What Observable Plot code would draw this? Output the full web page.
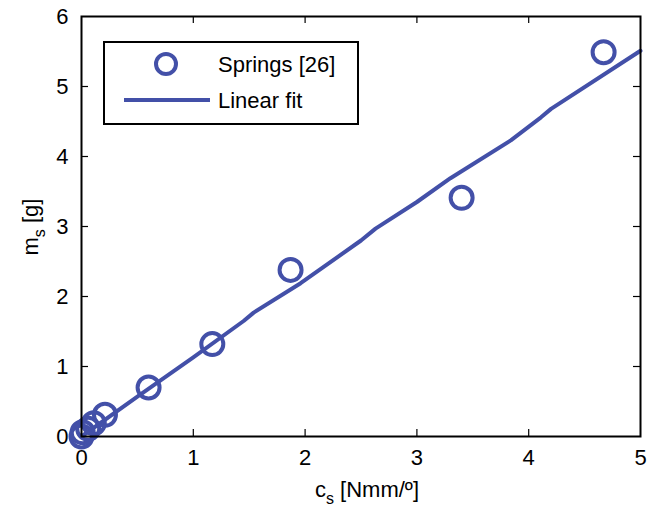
<!DOCTYPE html>
<html><head><meta charset="utf-8">
<script src="https://cdn.jsdelivr.net/npm/d3@7"></script>
<script src="https://cdn.jsdelivr.net/npm/@observablehq/plot@0.6"></script>
<style>
body{margin:0;background:#fff;font-family:"Liberation Sans",Arial,sans-serif;}
#wrap{position:relative;width:662px;height:507px;overflow:hidden;}
#legend{position:absolute;left:103px;top:41px;width:252px;height:80px;border:2px solid #000;background:#fff;box-sizing:content-box;}
</style></head>
<body><div id="wrap"></div>
<script>
const springC = [0.00, 0.01, 0.06, 0.11, 0.21, 0.60, 1.17, 1.87, 3.40, 4.67];
const springM = [0.00, 0.06, 0.11, 0.19, 0.31, 0.70, 1.32, 2.38, 3.41, 5.49];
const fitC = [0, 0.5, 1.0, 1.45, 1.54, 1.96, 2.5, 2.63, 3.0, 3.3, 3.84, 4.11, 4.2, 5.0];
const fitM = [0, 0.57, 1.13, 1.65, 1.77, 2.19, 2.8, 2.97, 3.35, 3.69, 4.23, 4.56, 4.68, 5.51];
const xTicks = [0, 1, 2, 3, 4, 5];
const yTicks = [0, 1, 2, 3, 4, 5, 6];
const blue = "#4350a8";

const springs = springC.map((c, i) => ({c, m: springM[i]}));
const fit = fitC.map((c, i) => ({c, m: fitM[i]}));
const tx = 5 / 559 * 7, ty = 6 / 420 * 7;

const chart = Plot.plot({
  width: 662, height: 507,
  marginLeft: 81, marginRight: 22, marginTop: 16, marginBottom: 71,
  style: {fontFamily: "Liberation Sans, Arial, sans-serif", fontSize: "22px", color: "#000", background: "#fff"},
  x: {domain: [0, 5], ticks: xTicks, tickFormat: d3.format("d"), tickSize: 0, tickPadding: 13, label: null},
  y: {domain: [0, 6], ticks: yTicks, tickFormat: d3.format("d"), tickSize: 0, tickPadding: 13, label: null},
  marks: [
    Plot.ruleX(xTicks.slice(1, -1), {x: d => d, y1: 0, y2: ty, stroke: "#000", strokeWidth: 1.2}),
    Plot.ruleX(xTicks.slice(1, -1), {x: d => d, y1: 6, y2: 6 - ty, stroke: "#000", strokeWidth: 1.2}),
    Plot.ruleY(yTicks.slice(1, -1), {y: d => d, x1: 0, x2: tx, stroke: "#000", strokeWidth: 1.2}),
    Plot.ruleY(yTicks.slice(1, -1), {y: d => d, x1: 5, x2: 5 - tx, stroke: "#000", strokeWidth: 1.2}),
    Plot.line(fit, {x: "c", y: "m", stroke: blue, strokeWidth: 4}),
    Plot.dot(springs, {x: "c", y: "m", r: 11, stroke: blue, strokeWidth: 4, fill: "none"}),
    Plot.frame({stroke: "#000", strokeWidth: 2})
  ]
});
document.getElementById("wrap").appendChild(chart);

const svg = d3.select(chart);
const xl = svg.append("text").attr("x", 367).attr("y", 497).attr("text-anchor", "middle")
  .attr("font-size", 22).attr("fill", "#000");
xl.append("tspan").text("c");
xl.append("tspan").attr("font-size", 16).attr("dy", 7).text("s");
xl.append("tspan").attr("dy", -7).text(" [Nmm/º]");

const yl = svg.append("text").attr("transform", "translate(38,227) rotate(-90)").attr("text-anchor", "middle")
  .attr("font-size", 22).attr("fill", "#000");
yl.append("tspan").text("m");
yl.append("tspan").attr("font-size", 16).attr("dy", 7).text("s");
yl.append("tspan").attr("dy", -7).text(" [g]");

// legend
const leg = document.createElement("div");
leg.id = "legend";
leg.innerHTML = `<svg width="252" height="80" style="position:absolute;left:0;top:0">
<circle cx="61" cy="21" r="10" fill="none" stroke="${blue}" stroke-width="4"/>
<line x1="19" y1="57" x2="105" y2="57" stroke="${blue}" stroke-width="4"/>
<text x="113" y="29" font-size="22" font-family="Liberation Sans, Arial, sans-serif">Springs [26]</text>
<text x="113" y="65" font-size="22" font-family="Liberation Sans, Arial, sans-serif">Linear fit</text>
</svg>`;
document.getElementById("wrap").appendChild(leg);
</script></body></html>
